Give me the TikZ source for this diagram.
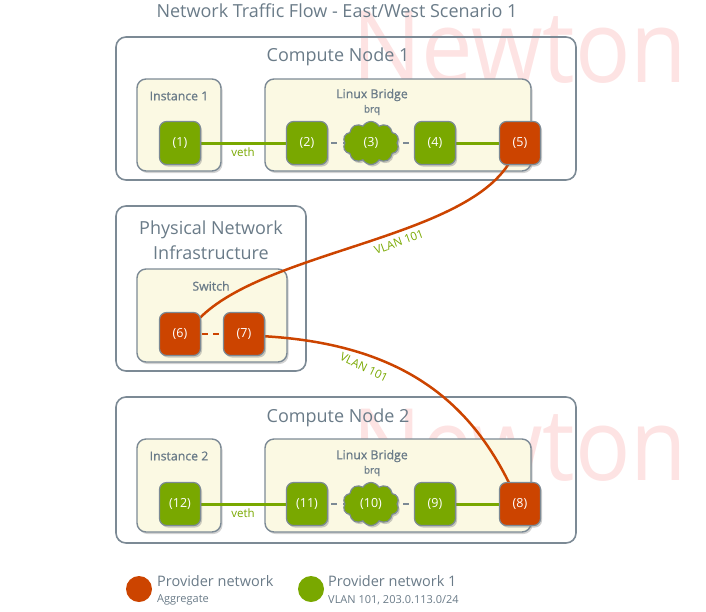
\documentclass[tikz,border=0pt]{standalone}
\usepackage{fontspec}
\setmainfont{Open Sans}
\newfontfamily\osemi{Open Sans}[FakeBold=0.8]
\usetikzlibrary{shapes.symbols,shadows}
\definecolor{edgegray}{HTML}{7C8A95}
\definecolor{txtgray}{HTML}{6A7B88}
\definecolor{cream}{HTML}{FBF9E3}
\definecolor{pgreen}{HTML}{79A800}
\definecolor{porange}{HTML}{CC4400}
\definecolor{wmark}{HTML}{FDE3E3}
\tikzset{
  outerbox/.style={draw=edgegray,line width=1.6pt,rounded corners=10pt},
  innerbox/.style={draw=edgegray,line width=1.4pt,fill=cream,rounded corners=9pt,
    drop shadow={shadow xshift=1.5pt,shadow yshift=-2pt,opacity=0.35}},
  port/.style={draw=edgegray,line width=1.2pt,rounded corners=7pt,minimum width=41pt,minimum height=43pt,
    text=white,font=\fontsize{12.5}{14}\selectfont,inner sep=0pt,
    drop shadow={shadow xshift=1.5pt,shadow yshift=-2pt,opacity=0.4}},
  gport/.style={port,fill=pgreen},
  oport/.style={port,fill=porange},
  cloudport/.style={cloud,cloud puffs=10,cloud puff arc=120,aspect=1.35,draw=edgegray,line width=1.2pt,fill=pgreen,
    text=white,font=\fontsize{12.5}{14}\selectfont,minimum width=56pt,minimum height=43pt,inner sep=0pt,
    drop shadow={shadow xshift=1.5pt,shadow yshift=-2pt,opacity=0.4}},
  bigtitle/.style={text=txtgray,font=\fontsize{18}{24.5}\selectfont},
  boxtitle/.style={text=txtgray,font=\osemi\fontsize{12.3}{14}\selectfont,inner sep=1pt},
  greenlink/.style={draw=pgreen,line width=3pt},
  dashlink/.style={draw=edgegray,line width=1.5pt,dash pattern=on 6pt off 6pt},
  orangelink/.style={draw=porange,line width=2.5pt},
  vlan/.style={text=pgreen,font=\fontsize{11.5}{13}\selectfont},
  wm/.style={text=wmark,font=\fontsize{100}{100}\selectfont,inner sep=0pt}
}
\begin{document}
\begin{tikzpicture}[x=1pt,y=-1pt]
\useasboundingbox (0,0) rectangle (706,611);
% watermarks
\node[wm,anchor=base west,xscale=0.92,transform shape] (wm1) at (352,82) {Newton};
\node[wm,anchor=base west,xscale=0.92,transform shape] (wm2) at (352,480) {Newton};
% title
\node[bigtitle] (title) at (337,11) {Network Traffic Flow - East/West Scenario 1};
% Compute node 1
\draw[outerbox] (116,37) rectangle (576,180);
\node[bigtitle] (cn1) at (338,57) {Compute Node 1};
\draw[innerbox] (137,79) rectangle (221,171);
\node[boxtitle] (inst1) at (179,96) {Instance 1};
\draw[innerbox] (265,79) rectangle (531,171);
\node[boxtitle] (lb1) at (372,95) {Linux Bridge};
\node[boxtitle,font=\osemi\fontsize{10}{12}\selectfont] (brq1) at (372,110) {brq};
% Physical network
\draw[outerbox] (116,206) rectangle (306,371);
\node[bigtitle,align=center] (phys) at (211,240) {Physical Network\\Infrastructure};
\draw[innerbox] (137,269) rectangle (287,362);
\node[boxtitle] (sw) at (211,286) {Switch};
% Compute node 2
\draw[outerbox] (116,397) rectangle (576,543);
\node[bigtitle] (cn2) at (338,418) {Compute Node 2};
\draw[innerbox] (137,439) rectangle (221,532);
\node[boxtitle] (inst2) at (179,456) {Instance 2};
\draw[innerbox] (265,439) rectangle (531,532);
\node[boxtitle] (lb2) at (372,456) {Linux Bridge};
\node[boxtitle,font=\osemi\fontsize{10}{12}\selectfont] (brq2) at (372,471) {brq};
% links drawn before ports
\coordinate (p1) at (180,143);
\coordinate (p2) at (307,143);
\coordinate (p3) at (371,143);
\coordinate (p4) at (435,143);
\coordinate (p5) at (520,143);
\coordinate (p6) at (180,334);
\coordinate (p7) at (244,334);
\coordinate (p8) at (520,504);
\coordinate (p9) at (435,504);
\coordinate (p10) at (371,504);
\coordinate (p11) at (307,504);
\coordinate (p12) at (180,504);
\draw[greenlink] (p1) -- (p2);
\draw[dashlink] (p2) -- (p4);
\draw[greenlink] (p4) -- (p5);
\draw[greenlink] (p12) -- (p11);
\draw[dashlink] (p11) -- (p9);
\draw[greenlink] (p9) -- (p8);
\draw[draw=porange,line width=1.5pt,dash pattern=on 6pt off 5pt] (p6) -- (p7);
\draw[orangelink] (512,158) .. controls (470,240) and (260,250) .. (196,322);
\draw[orangelink] (260,336) .. controls (400,343) and (470,400) .. (512,489);
\node[vlan,rotate=20] (vl1) at (399,242) {VLAN 101};
\node[vlan,rotate=-26] (vl2) at (364,367) {VLAN 101};
\node[vlan] (veth1) at (243,152) {veth};
\node[vlan] (veth2) at (243,513) {veth};
% ports
\node[gport] (n1) at (p1) {(1)};
\node[gport] (n2) at (p2) {(2)};
\node[cloudport] (n3) at (p3) {(3)};
\node[gport] (n4) at (p4) {(4)};
\node[oport] (n5) at (p5) {(5)};
\node[oport] (n6) at (p6) {(6)};
\node[oport] (n7) at (p7) {(7)};
\node[oport] (n8) at (p8) {(8)};
\node[gport] (n9) at (p9) {(9)};
\node[cloudport] (n10) at (p10) {(10)};
\node[gport] (n11) at (p11) {(11)};
\node[gport] (n12) at (p12) {(12)};
% legend
\node[circle,fill=porange,minimum size=26pt,inner sep=0pt] (lo) at (139,589) {};
\node[anchor=west,text=txtgray,font=\fontsize{14.5}{16}\selectfont,inner sep=0pt] (lot) at (157,581) {Provider network};
\node[anchor=west,text=txtgray,font=\fontsize{11}{12}\selectfont,inner sep=0pt] (los) at (157,600) {Aggregate};
\node[circle,fill=pgreen,minimum size=26pt,inner sep=0pt] (lg) at (311,589) {};
\node[anchor=west,text=txtgray,font=\fontsize{14.5}{16}\selectfont,inner sep=0pt] (lgt) at (328,581) {Provider network 1};
\node[anchor=west,text=txtgray,font=\fontsize{11}{12}\selectfont,inner sep=0pt] (lgs) at (328,600) {VLAN 101, 203.0.113.0/24};
\end{tikzpicture}
\end{document}
